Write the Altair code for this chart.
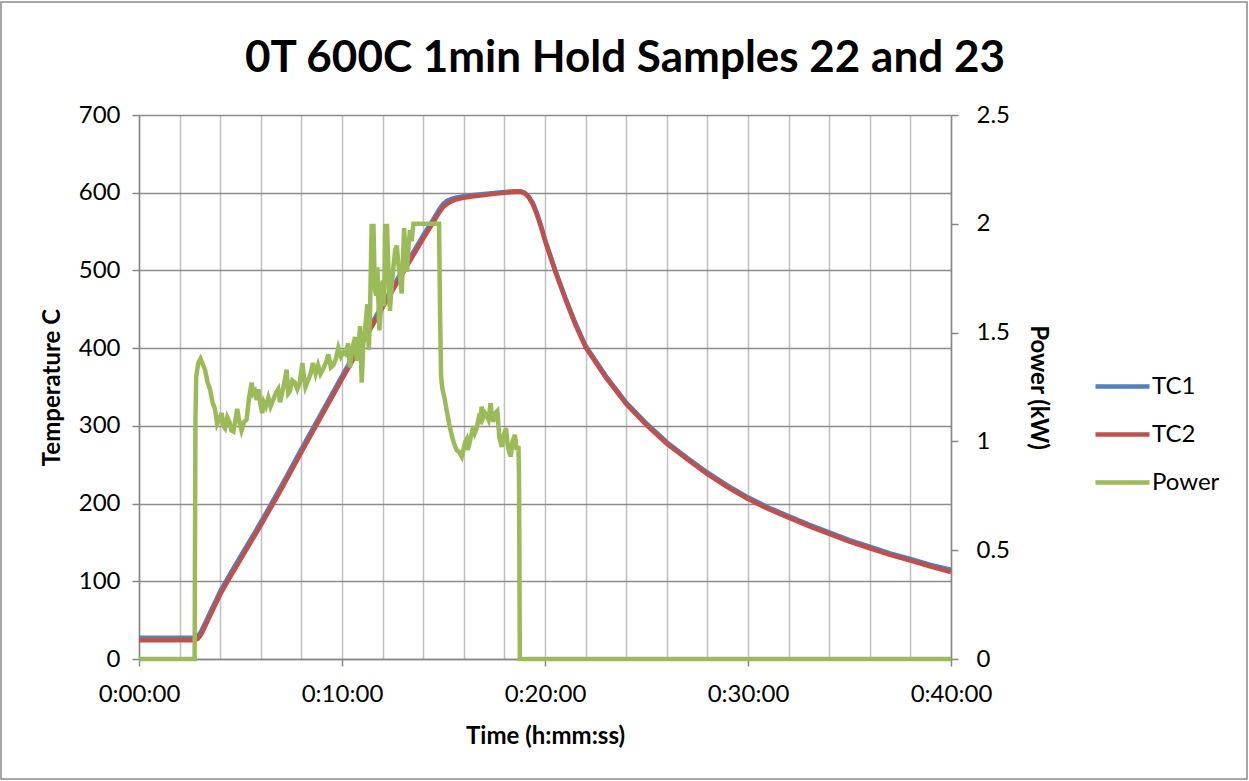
import altair as alt
import pandas as pd

title_text = "0T 600C 1min Hold Samples 22 and 23"
series_names = ["TC1", "TC2", "Power"]
series_colors = ["#4F81BD", "#C0504D", "#9BBB59"]

# time in minutes
temp_time = [0, 1, 2, 2.6, 2.75, 2.9, 3.05, 3.2, 3.4, 3.6, 3.8, 4.0, 4.5, 5, 6, 7, 8, 9, 10, 11, 12,
             13, 14, 14.5, 14.8, 15.0, 15.2, 15.4, 15.6, 15.8, 16, 16.5, 17, 17.5, 18, 18.5, 18.8,
             19.0, 19.2, 19.4, 19.6, 19.8, 20, 20.5, 21, 21.5, 22, 23, 24, 25, 26, 27, 28, 29, 30,
             31, 32, 33, 34, 35, 36, 37, 38, 39, 40]
tc1 = [27.5, 27.5, 27.5, 27.5, 27.5, 29.5, 35, 43, 54, 65, 76, 87, 110, 132, 176, 222, 270, 317, 364, 410, 456,
       501, 545, 566, 579, 586, 590, 592, 593.5, 594.5, 595.5, 597, 598.5, 599.5, 601, 602, 602,
       600, 595, 587, 574, 558, 540, 501, 465, 432, 403, 364, 330, 303, 279, 259, 240, 223, 208,
       195, 184, 173, 163, 153, 144.5, 136, 128.7, 121, 115]
tc2 = [24, 24, 24, 24, 24, 26, 31, 39, 50, 61, 72, 83, 106, 128, 172, 218, 266, 313, 360, 406, 452,
       497, 541, 562, 575, 582, 586, 589, 591, 592.5, 593.5, 595.5, 597, 598.5, 600, 601, 601,
       599, 594, 585, 572, 556, 538, 499, 463, 430, 401, 362, 328, 301, 277, 257, 238, 221, 206,
       193, 182, 171, 161, 151, 142.5, 134, 126.7, 119, 112]

power_time = [0, 2.74, 2.78, 2.82, 2.92, 3.03, 3.12, 3.25, 3.38, 3.5, 3.62, 3.74, 3.85, 3.95, 4.07,
              4.16, 4.24, 4.35, 4.45, 4.55, 4.65, 4.75, 4.84, 4.92, 5.05, 5.18, 5.3, 5.42, 5.55,
              5.63, 5.71, 5.8, 5.88, 5.98, 6.07, 6.15, 6.25, 6.37, 6.48, 6.61, 6.73, 6.86, 6.95,
              7.02, 7.14, 7.27, 7.35, 7.43, 7.55, 7.68, 7.8, 7.92, 8.05, 8.12, 8.2, 8.33, 8.45,
              8.57, 8.7, 8.82, 8.94, 9.06, 9.2, 9.33, 9.45, 9.57, 9.7, 9.82, 9.95, 10.07, 10.2,
              10.3, 10.39, 10.5, 10.64, 10.73, 10.8, 10.89, 10.97, 11.05, 11.13, 11.25, 11.32,
              11.38, 11.46, 11.55, 11.62, 11.68, 11.74, 11.84, 11.92, 12.0, 12.07, 12.13, 12.22,
              12.3, 12.36, 12.45, 12.53, 12.62, 12.7, 12.77, 12.83, 12.94, 13.06, 13.13, 13.2,
              13.28, 13.35, 13.43, 13.52, 13.7, 14.0, 14.3, 14.6, 14.78, 14.83, 14.88, 14.95,
              15.05, 15.16, 15.28, 15.4, 15.52, 15.65, 15.78, 15.9, 16.0, 16.08, 16.14, 16.2,
              16.3, 16.4, 16.47, 16.55, 16.63, 16.72, 16.8, 16.88, 16.96, 17.05, 17.13, 17.22,
              17.32, 17.38, 17.45, 17.55, 17.65, 17.75, 17.87, 17.97, 18.08, 18.18, 18.31, 18.4,
              18.52, 18.6, 18.69, 18.72, 18.76, 40]
power_kw = [0, 0, 1.10, 1.30, 1.36, 1.38, 1.36, 1.33, 1.27, 1.24, 1.18, 1.15, 1.08, 1.10, 1.13,
            1.07, 1.06, 1.11, 1.09, 1.05, 1.045, 1.10, 1.15, 1.10, 1.05, 1.09, 1.10, 1.20, 1.27,
            1.22, 1.23, 1.19, 1.24, 1.17, 1.13, 1.18, 1.16, 1.20, 1.16, 1.19, 1.22, 1.24, 1.18,
            1.21, 1.26, 1.33, 1.22, 1.23, 1.28, 1.27, 1.24, 1.27, 1.36, 1.30, 1.25, 1.28, 1.31,
            1.36, 1.31, 1.35, 1.31, 1.33, 1.36, 1.40, 1.34, 1.35, 1.38, 1.43, 1.39, 1.41, 1.40,
            1.45, 1.34, 1.42, 1.48, 1.37, 1.40, 1.53, 1.27, 1.45, 1.51, 1.63, 1.42,
            1.59, 1.99, 1.99, 1.70, 1.67, 1.80, 1.51, 1.62, 1.74, 1.62, 1.99, 1.99,
            1.75, 1.60, 1.72, 1.80, 1.88, 1.90, 1.82, 1.78, 1.68, 1.98, 1.85, 1.78,
            1.90, 1.97, 1.92, 2.00, 2.00, 2.00, 2.00, 2.00, 2.00, 1.60, 1.30, 1.24,
            1.20, 1.14, 1.08, 1.03, 0.99, 0.96, 0.95, 0.93, 0.97, 1.00, 1.01, 0.96,
            1.00, 1.04, 1.07, 1.04, 1.06, 1.10, 1.08, 1.16, 1.11, 1.13, 1.12, 1.10,
            1.175, 1.12, 1.09, 1.13, 1.14, 1.02, 0.975, 1.03, 1.06, 0.97, 0.93, 1.00,
            1.03, 0.96, 0.98, 0.85, 0.0, 0.0]

x_ticks = list(range(0, 41, 2))
left_ticks = list(range(0, 701, 100))
right_ticks = [0, 0.5, 1, 1.5, 2, 2.5]

temp_df = pd.DataFrame({"t": temp_time, "TC1": tc1, "TC2": tc2})
power_df = pd.DataFrame({"t": power_time, "P": power_kw})
frame_df = pd.DataFrame({"k": [0]})

FONT = "Lato"
AXIS_GRAY = "#868686"
LW = 4.5

x_axis = alt.Axis(
    values=x_ticks,
    labelExpr="datum.value % 10 == 0 ? '0:' + (datum.value < 10 ? '0' : '') + datum.value + ':00' : ''",
    labelOverlap=False, labelFlush=False,
    grid=True, gridColor="#c0c0c0", gridWidth=1.5,
    tickSize=7, tickColor=AXIS_GRAY, tickWidth=1.5,
    tickOpacity={"condition": {"test": "datum.value % 10 == 0", "value": 1}, "value": 0},
    domainColor=AXIS_GRAY, domainWidth=1.5,
    labelFontSize=24, labelPadding=16,
    title="Time (h:mm:ss)", titleFontSize=24, titleFontWeight="bold", titlePadding=18,
)
x_enc = alt.X("t:Q", scale=alt.Scale(domain=[0, 40], nice=False, zero=False), axis=x_axis)

left_axis = alt.Axis(orient="left", values=left_ticks, grid=True, gridColor="#8c8c8c", gridWidth=1.5,
                     tickSize=7, tickColor=AXIS_GRAY, tickWidth=1.5, labelFlush=False,
                     domainColor=AXIS_GRAY, domainWidth=1.5,
                     labelFontSize=24, labelPadding=12,
                     title="Temperature C", titleFontSize=24, titleFontWeight="bold",
                     titlePadding=14)

color_scale = alt.Scale(domain=series_names, range=series_colors)
color_enc = alt.Color("series:N", scale=color_scale, legend=alt.Legend(title=None))
temp_scale = alt.Scale(domain=[0, 700], nice=False)

tc1_line = alt.Chart(temp_df).transform_calculate(series="'TC1'").mark_line(strokeWidth=LW).encode(
    x=x_enc,
    y=alt.Y("TC1:Q", scale=temp_scale, axis=left_axis),
    color=color_enc,
)
tc2_line = alt.Chart(temp_df).transform_calculate(series="'TC2'").mark_line(strokeWidth=LW).encode(
    x=x_enc,
    y=alt.Y("TC2:Q", scale=temp_scale, axis=left_axis),
    color=color_enc,
)
power_line = alt.Chart(power_df).transform_calculate(series="'Power'").mark_line(strokeWidth=LW).encode(
    x=x_enc,
    y=alt.Y("P:Q", scale=alt.Scale(domain=[0, 2.5], nice=False),
            axis=alt.Axis(orient="right", values=right_ticks, grid=False, format="~g",
                          tickSize=7, tickColor=AXIS_GRAY, tickWidth=1.5, labelFlush=False,
                          domainColor=AXIS_GRAY, domainWidth=1.5,
                          labelFontSize=24, labelPadding=18,
                          title="Power (kW)", titleFontSize=24, titleFontWeight="bold",
                          titlePadding=16)),
    color=color_enc,
)

frame = alt.Chart(frame_df).mark_rect(fill="transparent", stroke="#8c8c8c", strokeWidth=1.5).encode(
    x=alt.value(-138), x2=alt.value(1108), y=alt.value(-113), y2=alt.value(664)
)

temps = alt.layer(tc1_line, tc2_line)

chart = alt.layer(frame, temps, power_line).resolve_scale(y="independent").properties(
    width=812, height=544,
    padding={"left": 139, "top": 115, "right": 298, "bottom": 122},
    autosize=alt.AutoSizeParams(type="none"),
    title=alt.TitleParams(text=title_text, font=FONT, fontSize=44, fontWeight="bold",
                          color="black", anchor="middle", dx=80, baseline="alphabetic",
                          offset=-115),
).configure_view(strokeWidth=0).configure_axis(
    labelFont=FONT, titleFont=FONT, labelColor="black", titleColor="black"
).configure_legend(
    orient="none", legendX=954, legendY=242, symbolType="stroke",
    symbolSize=2916, symbolStrokeWidth=LW, labelFont=FONT, labelFontSize=24,
    labelColor="black", labelOffset=0, rowPadding=6, padding=0
)

chart.save("out.html", embed_options={"renderer": "svg", "actions": False})
